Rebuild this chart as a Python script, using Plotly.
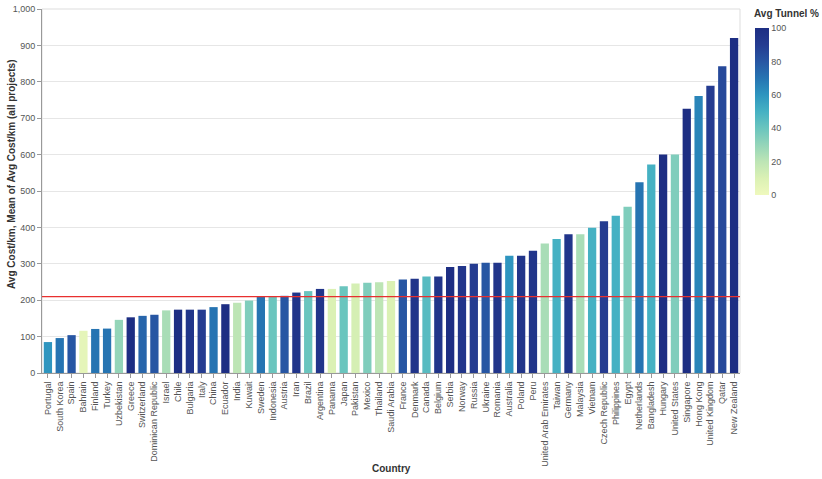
import plotly.graph_objects as go

countries = ["Portugal", "South Korea", "Spain", "Bahrain", "Finland", "Turkey", "Uzbekistan", "Greece",
             "Switzerland", "Dominican Republic", "Israel", "Chile", "Bulgaria", "Italy", "China", "Ecuador",
             "India", "Kuwait", "Sweden", "Indonesia", "Austria", "Iran", "Brazil", "Argentina", "Panama",
             "Japan", "Pakistan", "Mexico", "Thailand", "Saudi Arabia", "France", "Denmark", "Canada",
             "Belgium", "Serbia", "Norway", "Russia", "Ukraine", "Romania", "Australia", "Poland", "Peru",
             "United Arab Emirates", "Taiwan", "Germany", "Malaysia", "Vietnam", "Czech Republic",
             "Philippines", "Egypt", "Netherlands", "Bangladesh", "Hungary", "United States", "Singapore",
             "Hong Kong", "United Kingdom", "Qatar", "New Zealand"]

cost_per_km = [85, 96, 104, 116, 121, 122, 146, 153, 157, 160, 172, 174, 174, 174, 181, 189,
               193, 199, 209, 211, 212, 221, 225, 231, 231, 238, 246, 248, 249, 253, 257, 259, 265,
               265, 291, 294, 300, 303, 303, 322, 322, 336, 356, 368, 381, 381, 399, 417,
               432, 457, 524, 573, 600, 600, 726, 761, 789, 843, 920]

tunnel_pct = [60, 70, 80, 5, 70, 70, 30, 100, 75, 80, 25, 100, 95, 90, 70, 100,
              20, 35, 70, 40, 80, 95, 40, 95, 10, 40, 12, 35, 20, 10, 80, 95, 45,
              95, 100, 95, 90, 80, 95, 60, 95, 95, 25, 50, 95, 25, 50, 90,
              50, 35, 70, 50, 100, 35, 100, 65, 90, 85, 100]

mean_cost = 210

colorscale = [[0.0, "#eff9bd"], [0.1, "#dbf1b4"], [0.2, "#bde5b5"], [0.3, "#94d5b9"],
              [0.4, "#6ac5be"], [0.5, "#45b1c3"], [0.6, "#2e95bf"], [0.7, "#2674b2"],
              [0.8, "#2756a3"], [0.9, "#253c91"], [1.0, "#1d2e83"]]

font_family = "Liberation Sans, Arial, sans-serif"

W, H = 822, 479
PL, PR, PT, PB = 42, 740, 9, 373          # plot area in window pixels
pw, ph = PR - PL, PB - PT


def px(xw):
    return (xw - PL) / pw


def py(yw):
    return 1 - (yw - PT) / ph


fig = go.Figure()
fig.add_trace(go.Bar(
    x=countries, y=cost_per_km,
    marker=dict(
        color=tunnel_pct, colorscale=colorscale, cmin=0, cmax=100,
        line=dict(width=0),
        colorbar=dict(
            x=px(755), xanchor="left", y=py(28), yanchor="top",
            len=167, lenmode="pixels", thickness=14, thicknessmode="pixels",
            outlinewidth=0, xpad=0, ypad=0,
            tickvals=[0, 20, 40, 60, 80, 100], ticks="",
            tickfont=dict(size=9, color="#555"),
        ),
    ),
    hoverinfo="x+y",
))

fig.add_shape(type="line", xref="paper", yref="y", x0=0, x1=1, y0=mean_cost, y1=mean_cost,
              line=dict(color="#e8302f", width=1.2))

fig.add_shape(type="rect", xref="paper", yref="paper", x0=0, x1=1, y0=0, y1=1,
              line=dict(color="#dddddd", width=1), layer="below")

fig.add_annotation(text="<b>Avg Tunnel %</b>", xref="paper", yref="paper",
                   x=px(752), y=py(14), xanchor="left", yanchor="middle",
                   showarrow=False, font=dict(size=10, color="#333"))
fig.add_annotation(text="<b>Avg Cost/km, Mean of Avg Cost/km (all projects)</b>", xref="paper", yref="paper",
                   x=px(12), y=py(175), xanchor="center", yanchor="middle",
                   textangle=-90, showarrow=False, font=dict(size=10, color="#333"))
fig.add_annotation(text="<b>Country</b>", xref="paper", yref="paper",
                   x=0.5, y=py(468), xanchor="center", yanchor="middle",
                   showarrow=False, font=dict(size=10, color="#333"))

fig.update_layout(
    width=W, height=H,
    margin=dict(l=PL, r=W - PR, t=PT, b=H - PB, autoexpand=False),
    plot_bgcolor="white", paper_bgcolor="white",
    font=dict(family=font_family, color="#444"),
    bargap=0.3,
    showlegend=False,
)
fig.update_xaxes(
    tickangle=-90, tickfont=dict(size=9, color="#555"), automargin=False,
    showline=True, linecolor="#999", linewidth=1,
    ticks="outside", ticklen=4, tickcolor="#999",
    showgrid=False,
)
fig.update_yaxes(
    range=[0, 1000], dtick=100, tickformat=",d", automargin=False,
    tickfont=dict(size=9, color="#555"),
    showline=True, linecolor="#999", linewidth=1,
    ticks="outside", ticklen=4, tickcolor="#999",
    showgrid=True, gridcolor="#e6e6e6", gridwidth=1, zeroline=False,
)

fig.write_html("out.html", config={"displayModeBar": False},
               post_script="document.body.style.margin='0';document.body.style.overflow='hidden';")
